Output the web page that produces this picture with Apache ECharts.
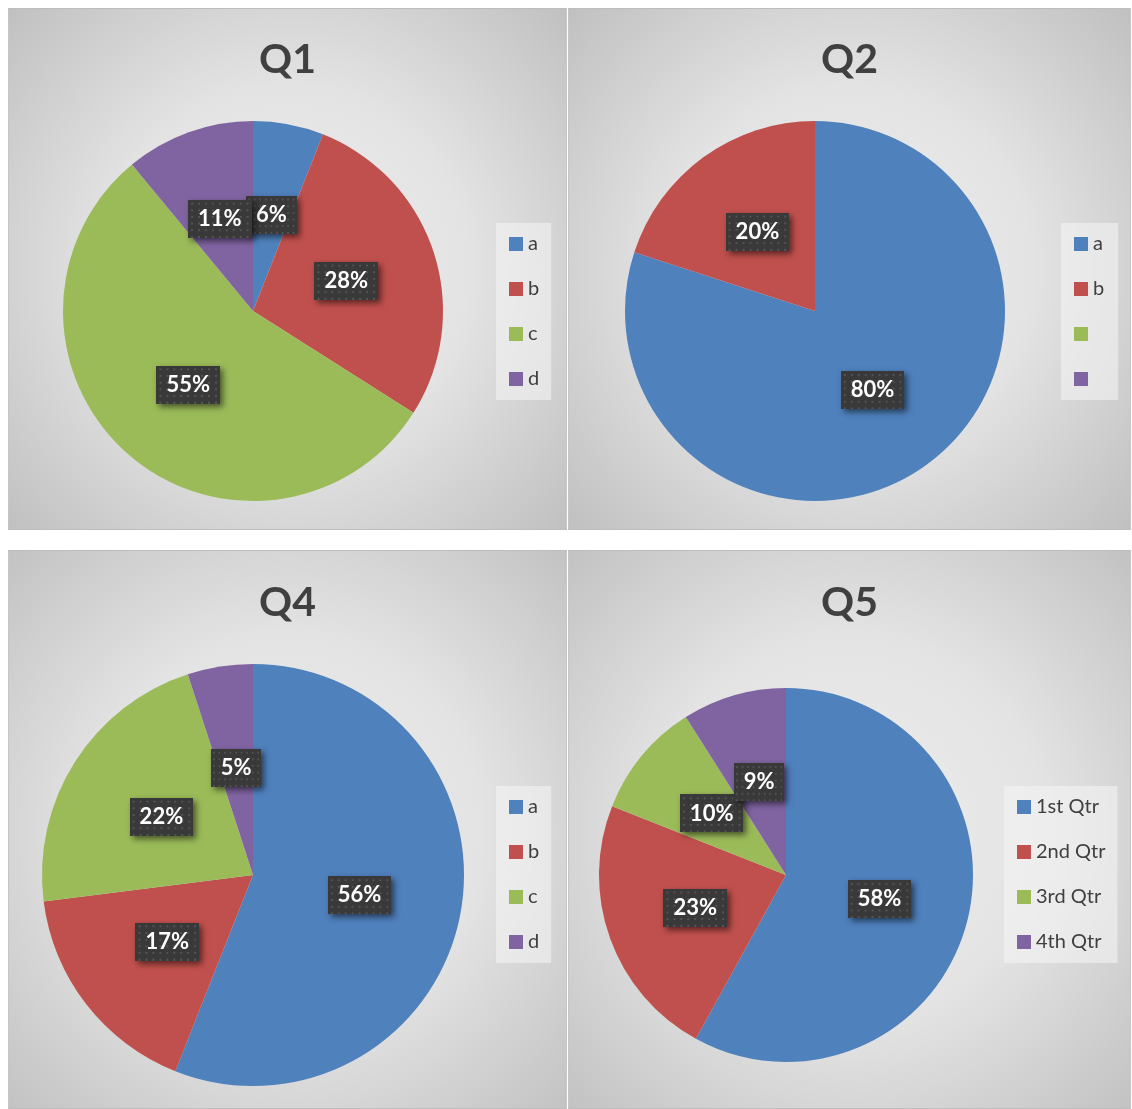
<!DOCTYPE html>
<html><head><meta charset="utf-8">
<script src="https://cdn.jsdelivr.net/npm/echarts@6/dist/echarts.min.js"></script>
<style>
html,body{margin:0;padding:0;background:#fff;}
.p{position:absolute;box-sizing:border-box;border:1px solid #c6c6c6;border-top-color:#bdbdbd;border-bottom-color:#bdbdbd;}
</style>
</head><body>
<div id="p1" class="p" style="left:8px;top:8px;width:559px;height:522px"></div>
<div id="p2" class="p" style="left:568px;top:8px;width:563px;height:522px"></div>
<div id="p4" class="p" style="left:8px;top:550px;width:559px;height:559px"></div>
<div id="p5" class="p" style="left:568px;top:550px;width:563px;height:559px"></div>
<script>
// ---- data ----
const titles = ['Q1', 'Q2', 'Q4', 'Q5'];
const q1Names = ['a', 'b', 'c', 'd'];
const q1Values = [6, 28, 55, 11];
const q2Names = ['a', 'b', 'c', 'd'];
const q2Values = [80, 20, 0, 0];
const q2LegendLabels = ['a', 'b', ' ', ' '];
const q4Names = ['a', 'b', 'c', 'd'];
const q4Values = [56, 17, 22, 5];
const q5Names = ['1st Qtr', '2nd Qtr', '3rd Qtr', '4th Qtr'];
const q5Values = [58, 23, 10, 9];
const colors = ['#4F81BD', '#C0504D', '#9BBB59', '#8064A2'];

// ---- label background pattern ----
function makePattern(w, h) {
  const c = document.createElement('canvas');
  c.width = w; c.height = h;
  const g = c.getContext('2d');
  g.fillStyle = '#393939'; g.fillRect(0, 0, w, h);
  g.fillStyle = '#545454';
  for (let y = 3; y < h; y += 7) for (let x = 3; x < w; x += 7) g.fillRect(x, y, 2, 2);
  return c;
}
const pat = makePattern(64, 40);

function bg() {
  return new echarts.graphic.RadialGradient(0.5, 0.5, 0.78, [
    { offset: 0, color: '#eeeeee' },
    { offset: 0.45, color: '#e3e3e3' },
    { offset: 1, color: '#bcbcbc' }
  ]);
}

function build(el, title, names, values, legendLabels, center, radius, legendPos) {
  const chart = echarts.init(document.getElementById(el), null, { renderer: 'canvas' });
  const data = names.map((n, i) => {
    const d = { name: n, value: values[i] };
    if (values[i] === 0) d.label = { show: false };
    return d;
  });
  chart.setOption({
    animation: false,
    backgroundColor: bg(),
    color: colors,
    title: {
      text: title, left: 'center', top: legendPos.titleTop,
      textStyle: { fontSize: 41, fontWeight: 'bold', color: '#404040', fontFamily: 'Lato' }
    },
    legend: {
      orient: 'vertical', left: legendPos.left, top: legendPos.top,
      data: names,
      icon: 'rect', itemWidth: 14, itemHeight: 14, itemGap: 25,
      backgroundColor: 'rgba(246,246,246,0.55)',
      padding: [11, legendPos.padRight, 11, 13],
      selectedMode: false,
      formatter: function (name) {
        const i = names.indexOf(name);
        return legendLabels ? legendLabels[i] : name;
      },
      textStyle: { fontSize: 20, color: '#404040', fontFamily: 'Lato', lineHeight: 20, height: 20 }
    },
    series: [{
      type: 'pie',
      center: center,
      radius: radius,
      startAngle: 90,
      clockwise: true,
      percentPrecision: 0,
      avoidLabelOverlap: false,
      labelLayout: { hideOverlap: false },
      emphasis: { disabled: true },
      itemStyle: { borderWidth: 0 },
      labelLine: { show: false },
      label: {
        show: true, position: 'inside', formatter: '{d}%',
        color: '#ffffff', fontSize: 22, fontWeight: 'bold', fontFamily: 'Lato',
        backgroundColor: { image: pat },
        padding: [8, 10, 8, 10],
        shadowColor: 'rgba(0,0,0,0.55)', shadowBlur: 6, shadowOffsetX: 3, shadowOffsetY: 3
      },
      data: data
    }]
  });
}

build('p1', titles[0], q1Names, q1Values, null, [244, 302], 190, { left: 487, top: 214, titleTop: 25, padRight: 12 });
build('p2', titles[1], q2Names, q2Values, q2LegendLabels, [246, 302], 190, { left: 492, top: 214, titleTop: 25, padRight: 14 });
build('p4', titles[2], q4Names, q4Values, null, [244, 324], 211, { left: 487, top: 235, titleTop: 26, padRight: 12 });
build('p5', titles[3], q5Names, q5Values, null, [217, 324], 187, { left: 435, top: 235, titleTop: 26, padRight: 12 });
</script>
</body></html>
